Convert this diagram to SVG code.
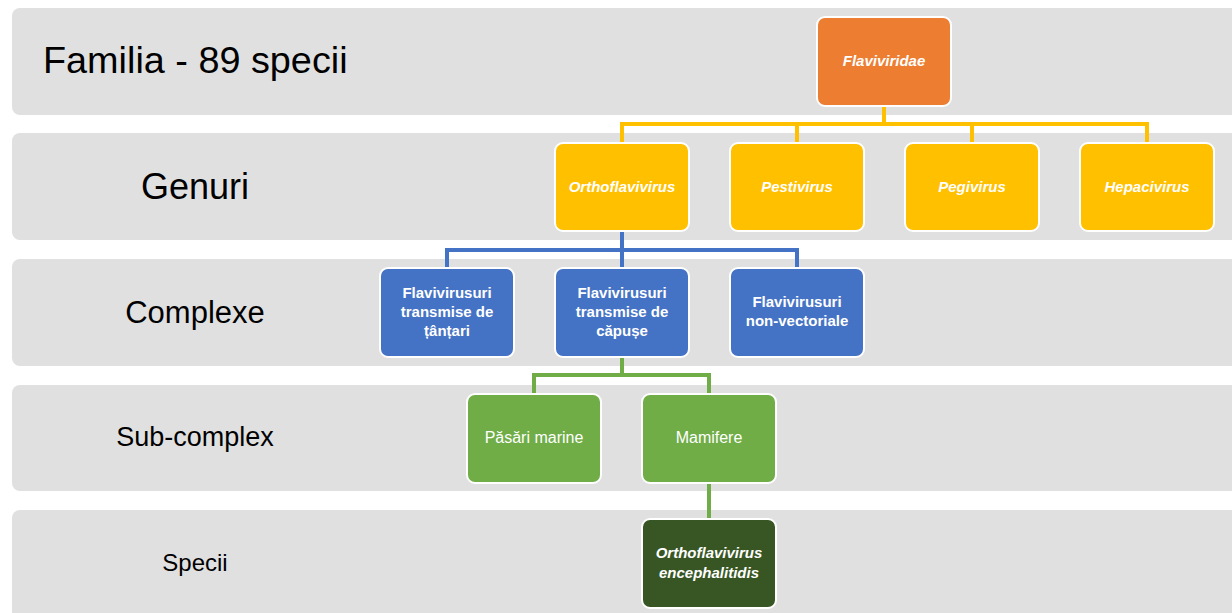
<svg xmlns="http://www.w3.org/2000/svg" width="1232" height="613" viewBox="0 0 1232 613">
<style>
.band{fill:#e0e0e0}
.lbl{font-family:"Liberation Sans",Arial,sans-serif;fill:#000}
.node rect{stroke:#fff;stroke-width:2}
.nt{font-family:"Liberation Sans",Arial,sans-serif;fill:#fff;font-size:15px;text-anchor:middle}
.it{font-style:italic;font-weight:bold}
.b{font-weight:bold}
.g{font-size:16px}
.conn path{fill:none;stroke-width:4}
</style>
<rect width="1232" height="613" fill="#fff"/>
<g id="bands">
<rect class="band" x="12" y="8" width="1240" height="107" rx="8"/>
<rect class="band" x="12" y="133" width="1240" height="107" rx="8"/>
<rect class="band" x="12" y="259" width="1240" height="107" rx="8"/>
<rect class="band" x="12" y="385" width="1240" height="106" rx="8"/>
<rect class="band" x="12" y="510" width="1240" height="110" rx="8"/>
</g>
<g id="labels">
<text class="lbl" x="43" y="73" font-size="37.8">Familia - 89 specii</text>
<text class="lbl" x="195" y="199" font-size="36" text-anchor="middle">Genuri</text>
<text class="lbl" x="195" y="323" font-size="31" text-anchor="middle">Complexe</text>
<text class="lbl" x="195" y="446" font-size="27" text-anchor="middle">Sub-complex</text>
<text class="lbl" x="195" y="571" font-size="24" text-anchor="middle">Specii</text>
</g>
<g id="connectors" class="conn">
<path stroke="#ffc000" d="M884 106V124M622 143V124H1147V143M797 124V143M972 124V143"/>
<path stroke="#4472c4" d="M622 231V250M447 268V250H797V268M622 250V268"/>
<path stroke="#70ad47" d="M622 357V375M534 394V375H709V394"/>
<path stroke="#70ad47" d="M709 483V519"/>
</g>
<g id="flaviviridae" class="node"><rect x="817" y="17" width="134" height="89" rx="8" fill="#ed7d31"/><text class="nt it" x="884" y="66">Flaviviridae</text></g>
<g id="orthoflavivirus" class="node"><rect x="555" y="143" width="134" height="88" rx="8" fill="#ffc000"/><text class="nt it" x="622" y="192">Orthoflavivirus</text></g>
<g id="pestivirus" class="node"><rect x="730" y="143" width="134" height="88" rx="8" fill="#ffc000"/><text class="nt it" x="797" y="192">Pestivirus</text></g>
<g id="pegivirus" class="node"><rect x="905" y="143" width="134" height="88" rx="8" fill="#ffc000"/><text class="nt it" x="972" y="192">Pegivirus</text></g>
<g id="hepacivirus" class="node"><rect x="1080" y="143" width="134" height="88" rx="8" fill="#ffc000"/><text class="nt it" x="1147" y="192">Hepacivirus</text></g>
<g id="tantari" class="node"><rect x="380" y="268" width="134" height="89" rx="8" fill="#4472c4"/><text class="nt b" x="447" y="298">Flavivirusuri<tspan x="447" dy="19">transmise de</tspan><tspan x="447" dy="19">țânțari</tspan></text></g>
<g id="capuse" class="node"><rect x="555" y="268" width="134" height="89" rx="8" fill="#4472c4"/><text class="nt b" x="622" y="298">Flavivirusuri<tspan x="622" dy="19">transmise de</tspan><tspan x="622" dy="19">căpușe</tspan></text></g>
<g id="nonvect" class="node"><rect x="730" y="268" width="134" height="89" rx="8" fill="#4472c4"/><text class="nt b" x="797" y="307">Flavivirusuri<tspan x="797" dy="19">non-vectoriale</tspan></text></g>
<g id="pasari" class="node"><rect x="467" y="394" width="134" height="89" rx="8" fill="#70ad47"/><text class="nt g" x="534" y="443">Păsări marine</text></g>
<g id="mamifere" class="node"><rect x="642" y="394" width="134" height="89" rx="8" fill="#70ad47"/><text class="nt g" x="709" y="443">Mamifere</text></g>
<g id="specie" class="node"><rect x="642" y="519" width="134" height="89" rx="8" fill="#375623"/><text class="nt it" x="709" y="558">Orthoflavivirus<tspan x="709" dy="20">encephalitidis</tspan></text></g>
</svg>
